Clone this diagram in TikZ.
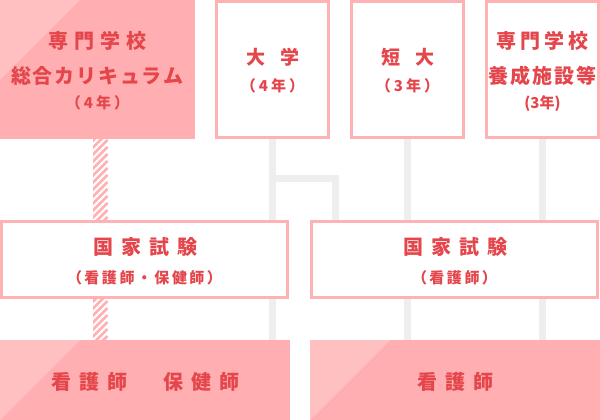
\documentclass[tikz,border=0pt]{standalone}
\usepackage{fontspec}
\setmainfont{Noto Sans CJK JP}
\usetikzlibrary{calc,backgrounds}
\definecolor{pinkfill}{HTML}{FFAFB1}
\definecolor{pinklight}{HTML}{FFC0C2}
\definecolor{pinkline}{HTML}{FFB2B3}
\definecolor{redtxt}{HTML}{E4464C}
\definecolor{grayline}{HTML}{EEEEEE}
\makeatletter
\newcommand\spc[2]{\def\my@gap{#1}\@tfor\my@c:=#2\do{\my@c\kern\my@gap\relax}\kern-\my@gap\relax}
\makeatother
\newcommand\myfs[1]{\fontsize{#1}{#1}\selectfont\bfseries}
\begin{document}
\begin{tikzpicture}[x=1pt,y=-1pt,
  outbox/.style={draw=pinkline, line width=3pt, fill=white, inner sep=0pt, outer sep=0pt, rectangle},
  fillbox/.style={fill=pinkfill, inner sep=0pt, outer sep=0pt, rectangle},
  gline/.style={draw=grayline, line width=7pt},
  txt/.style={text=redtxt, inner sep=0pt, anchor=base}]
\useasboundingbox (0,0) rectangle (600,420);
% boxes
\node[fillbox, minimum width=195pt, minimum height=139pt] (tl) at (97.5,69.5) {};
\fill[pinklight] (tl.north west) -- ++(80,0) -- ++(-80,80) -- cycle;
\node[outbox, minimum width=112pt, minimum height=136pt] (daigaku) at (272.5,69.5) {};
\node[outbox, minimum width=112pt, minimum height=136pt] (tandai) at (407.5,69.5) {};
\node[outbox, minimum width=112pt, minimum height=136pt] (yosei) at (542.5,69.5) {};
\node[outbox, minimum width=286pt, minimum height=76pt] (examL) at (144.5,259.5) {};
\node[outbox, minimum width=286pt, minimum height=76pt] (examR) at (454.5,259.5) {};
\node[fillbox, minimum width=290pt, minimum height=80pt] (botL) at (145,380) {};
\fill[pinklight] (botL.north west) -- ++(80,0) -- ++(-80,80) -- cycle;
\node[fillbox, minimum width=290pt, minimum height=80pt] (botR) at (455,380) {};
\fill[pinklight] (botR.north west) -- ++(80,0) -- ++(-80,80) -- cycle;
% connectors
\begin{pgfonlayer}{background}
\draw[gline] (daigaku.south) -- (daigaku.south |- botL.north);
\coordinate (bend) at (335,178);
\draw[gline] (daigaku.south |- bend) -- (bend) -- (bend |- examR.north);
\draw[gline] (tandai.south) -- (tandai.south |- botR.north);
\draw[gline] (yosei.south) -- (yosei.south |- botR.north);
\begin{scope}
\clip ($(tl.south)+(-4.5,0)$) rectangle ($(botL.north)+(4.5,0)$);
\foreach \i in {-3,...,32}
  \draw[pinkline, line width=2.7pt] ($(tl.south)+(-10,\i*7)$) -- ++(20,-20);
\end{scope}
\end{pgfonlayer}
% texts
\node[txt, font=\myfs{20}] (t1a) at (97.5,48.4) {\spc{6pt}{専門学校}};
\node[txt, font=\myfs{20}] (t1b) at (97.5,83.4) {\spc{1.8pt}{総合カリキュラム}};
\node[txt, font=\myfs{15}] (t1c) at (97.5,109) {\spc{3pt}{（4年）}};
\node[txt, font=\myfs{19}] (t2a) at (273,65) {\spc{15pt}{大学}};
\node[txt, font=\myfs{15}] (t2b) at (272.5,91.5) {\spc{3pt}{（4年）}};
\node[txt, font=\myfs{19}] (t3a) at (408,65) {\spc{15pt}{短大}};
\node[txt, font=\myfs{15}] (t3b) at (407.5,91.5) {\spc{3pt}{（3年）}};
\node[txt, font=\myfs{20}] (t4a) at (542.5,48.4) {\spc{4pt}{専門学校}};
\node[txt, font=\myfs{20}] (t4b) at (542.5,83.4) {\spc{2pt}{養成施設等}};
\node[txt, font=\myfs{15}] (t4c) at (542.5,108.5) {(3年)};
\node[txt, font=\myfs{20}] (t5a) at (145.5,254.4) {\spc{8pt}{国家試験}};
\node[txt, font=\myfs{15}] (t5b) at (144.5,283.5) {\spc{2.5pt}{（看護師・保健師）}};
\node[txt, font=\myfs{20}] (t6a) at (455,254.4) {\spc{8pt}{国家試験}};
\node[txt, font=\myfs{15}] (t6b) at (454.5,283.5) {\spc{2.5pt}{（看護師）}};
\node[txt, font=\myfs{20}] (t7) at (145.5,389.4) {\spc{8pt}{看護師　保健師}};
\node[txt, font=\myfs{20}] (t8) at (455,389.4) {\spc{8pt}{看護師}};
\end{tikzpicture}
\end{document}
